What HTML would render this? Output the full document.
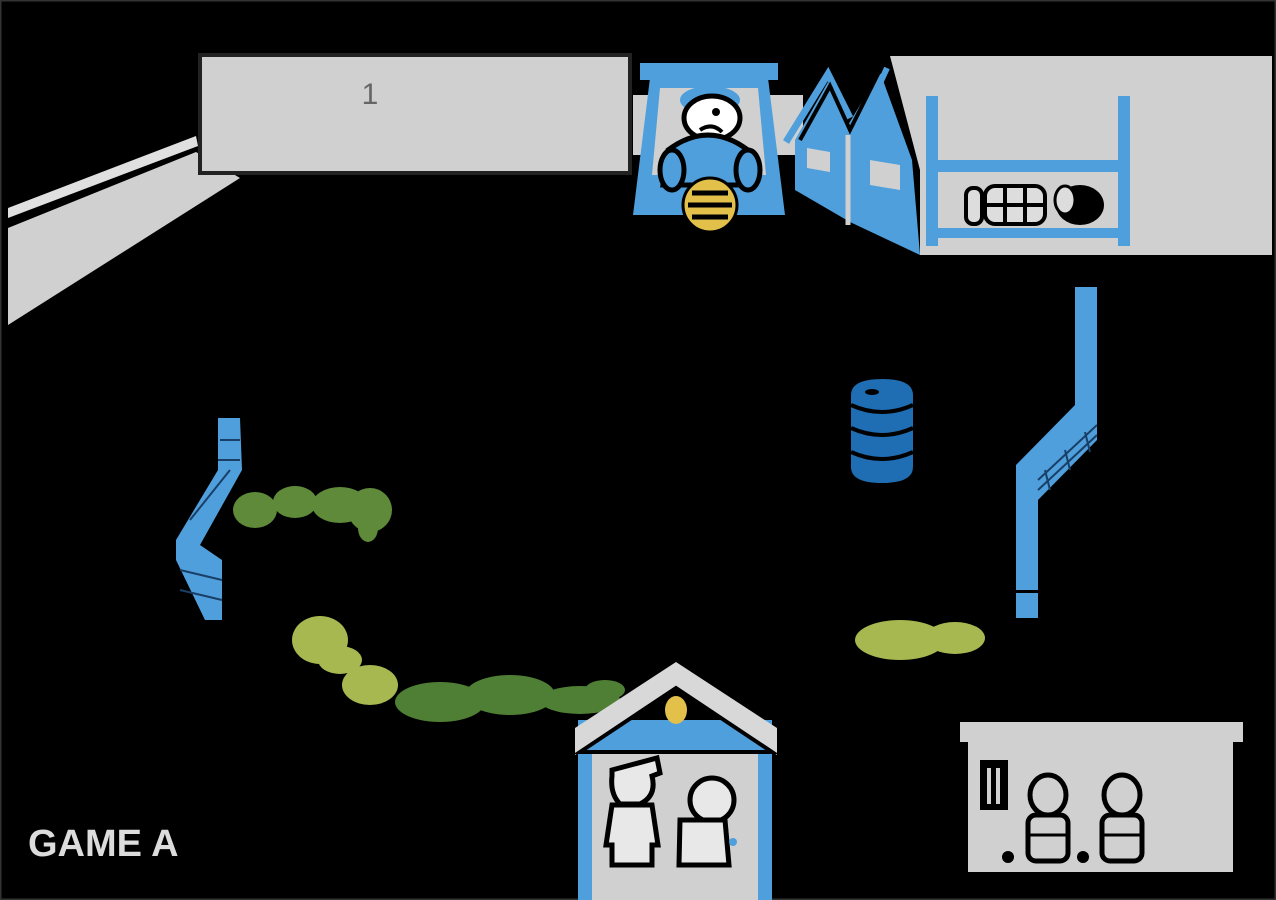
<!DOCTYPE html>
<html><head><style>
html,body{margin:0;padding:0;background:#000;width:1276px;height:900px;overflow:hidden}
svg{display:block}
</style></head><body>
<svg width="1276" height="900" viewBox="0 0 1276 900" xmlns="http://www.w3.org/2000/svg">
<rect x="0" y="0" width="1276" height="900" fill="#000"/>
<rect x="0.5" y="0.5" width="1275" height="899" fill="none" stroke="#333" stroke-width="2"/>
<!-- left wall -->
<polygon points="8,228 196,152 240,178 8,325" fill="#d0d0d0"/>
<polygon points="8,208 196,136 198,146 8,218" fill="#e0e0e0"/>
<!-- top grey bar -->
<rect x="633" y="95" width="170" height="60" fill="#d0d0d0"/>
<rect x="200" y="55" width="430" height="118" fill="#d0d0d0" stroke="#222" stroke-width="4"/>
<text x="370" y="104" font-family="Liberation Sans, sans-serif" font-size="30" fill="#666" text-anchor="middle">1</text>
<!-- right grey area -->
<polygon points="890,56 1272,56 1272,255 920,255 920,170" fill="#d0d0d0"/>
<!-- blue house -->
<polygon points="795,140 828,82 848,125 880,72 912,160 920,255 850,222 795,190" fill="#4f9fdd"/>
<polyline points="786,142 828,74 850,118" fill="none" stroke="#4f9fdd" stroke-width="7"/>
<polyline points="800,140 830,86 850,130 880,70" fill="none" stroke="#000" stroke-width="4"/>
<line x1="856" y1="135" x2="887" y2="68" stroke="#4f9fdd" stroke-width="6"/>
<line x1="848" y1="135" x2="848" y2="225" stroke="#d0d0d0" stroke-width="5"/>
<polygon points="807,148 830,152 830,172 807,168" fill="#d0d0d0"/>
<polygon points="870,160 900,165 900,190 870,185" fill="#d0d0d0"/>
<!-- bunk bed -->
<g fill="#4f9fdd">
<rect x="926" y="96" width="12" height="150"/>
<rect x="1118" y="96" width="12" height="150"/>
<rect x="926" y="160" width="204" height="12"/>
<rect x="926" y="228" width="204" height="10"/>
</g>
<g stroke="#000" stroke-width="4" fill="#ddd">
<rect x="966" y="188" width="16" height="36" rx="7"/>
<rect x="985" y="186" width="60" height="38" rx="10"/>
<line x1="1005" y1="188" x2="1005" y2="222"/><line x1="1025" y1="188" x2="1025" y2="222"/><line x1="986" y1="205" x2="1044" y2="205"/>
</g>
<ellipse cx="1080" cy="205" rx="24" ry="20" fill="#000"/>
<ellipse cx="1065" cy="200" rx="10" ry="14" fill="#ddd" stroke="#000" stroke-width="3"/>
<!-- guard booth -->
<polygon points="640,63 778,63 778,80 640,80" fill="#4f9fdd"/>
<polygon points="650,78 768,78 785,215 633,215" fill="#4f9fdd"/>
<polygon points="660,88 758,88 766,175 652,175" fill="#d0d0d0"/>
<ellipse cx="710" cy="100" rx="30" ry="14" fill="#4f9fdd"/>
<ellipse cx="712" cy="118" rx="28" ry="22" fill="#fff" stroke="#000" stroke-width="5"/>
<path d="M700 130 q12 -8 22 2" stroke="#000" stroke-width="4" fill="none"/>
<circle cx="716" cy="112" r="4" fill="#000"/>
<path d="M668 150 q40 -30 80 0 l5 35 h-90z" fill="#4f9fdd" stroke="#000" stroke-width="5"/>
<ellipse cx="672" cy="170" rx="12" ry="20" fill="#4f9fdd" stroke="#000" stroke-width="5"/>
<ellipse cx="748" cy="170" rx="12" ry="20" fill="#4f9fdd" stroke="#000" stroke-width="5"/>
<circle cx="710" cy="205" r="27" fill="#e2c04a" stroke="#000" stroke-width="3"/>
<g stroke="#000" stroke-width="5"><line x1="692" y1="193" x2="728" y2="193"/><line x1="688" y1="205" x2="732" y2="205"/><line x1="692" y1="217" x2="728" y2="217"/></g>
<!-- right pipe -->
<polygon points="1075,287 1097,287 1097,440 1038,500 1038,618 1016,618 1016,465 1075,405" fill="#4f9fdd"/>
<rect x="1016" y="590" width="22" height="3" fill="#000"/>
<g stroke="#1a3f66" stroke-width="2">
<line x1="1038" y1="480" x2="1097" y2="425"/><line x1="1038" y1="490" x2="1097" y2="435"/><line x1="1045" y1="470" x2="1050" y2="490"/><line x1="1065" y1="450" x2="1070" y2="470"/><line x1="1085" y1="432" x2="1090" y2="452"/>
</g>
<!-- barrel -->
<path d="M851 395 q0 -16 31 -16 q31 0 31 16 v72 q0 16 -31 16 q-31 0 -31 -16z" fill="#1f6db3"/>
<g stroke="#000" stroke-width="4" fill="none">
<path d="M851 405 q31 14 62 0"/><path d="M851 428 q31 14 62 0"/><path d="M851 452 q31 14 62 0"/>
</g>
<ellipse cx="872" cy="392" rx="7" ry="3" fill="#000"/>
<!-- left wall blue -->
<polygon points="218,418 240,418 242,470 200,545 222,560 222,620 205,620 176,560 176,540 218,470" fill="#4f9fdd"/>
<g stroke="#1a3f66" stroke-width="2">
<line x1="220" y1="440" x2="240" y2="440"/><line x1="218" y1="460" x2="240" y2="460"/><line x1="190" y1="520" x2="230" y2="470"/><line x1="180" y1="570" x2="222" y2="580"/><line x1="180" y1="590" x2="222" y2="600"/>
</g>
<!-- bushes -->
<g fill="#5e8a3a">
<ellipse cx="255" cy="510" rx="22" ry="18"/><ellipse cx="295" cy="502" rx="22" ry="16"/><ellipse cx="340" cy="505" rx="28" ry="18"/><ellipse cx="370" cy="510" rx="22" ry="22"/><ellipse cx="368" cy="528" rx="10" ry="14"/>
</g>
<g fill="#a8b850">
<ellipse cx="320" cy="640" rx="28" ry="24"/><ellipse cx="340" cy="660" rx="22" ry="14"/><ellipse cx="370" cy="685" rx="28" ry="20"/>
<ellipse cx="900" cy="640" rx="45" ry="20"/><ellipse cx="955" cy="638" rx="30" ry="16"/>
</g>
<g fill="#4f7f35">
<ellipse cx="440" cy="702" rx="45" ry="20"/><ellipse cx="510" cy="695" rx="45" ry="20"/><ellipse cx="580" cy="700" rx="40" ry="14"/><ellipse cx="605" cy="690" rx="20" ry="10"/>
</g>
<!-- bottom house -->
<rect x="578" y="720" width="194" height="180" fill="#4f9fdd"/>
<rect x="592" y="750" width="166" height="150" fill="#d0d0d0"/>
<polygon points="575,728 676,662 777,728 777,755 676,690 575,755" fill="#d8d8d8"/>
<polygon points="580,752 676,688 772,752" fill="none" stroke="#000" stroke-width="4"/>
<ellipse cx="676" cy="710" rx="11" ry="14" fill="#e2c04a"/>
<g stroke="#000" stroke-width="5" fill="#e8e8e8">
<path d="M612 770 l45 -12 l3 15 l-8 3 q5 20 -12 28 l-20 0 q-10 -10 -8 -28z"/>
<path d="M612 805 h40 l6 40 h-6 v20 h-40 v-20 h-6z"/>
<circle cx="712" cy="800" r="22"/>
<path d="M680 820 h45 l4 45 h-50z"/>
</g>
<circle cx="733" cy="842" r="4" fill="#4f9fdd"/>
<!-- jail -->
<rect x="960" y="722" width="283" height="20" fill="#d0d0d0"/>
<rect x="968" y="740" width="265" height="132" fill="#d0d0d0"/>
<rect x="980" y="760" width="28" height="50" fill="#000"/>
<rect x="987" y="768" width="4" height="36" fill="#d0d0d0"/><rect x="996" y="768" width="4" height="36" fill="#d0d0d0"/>
<g stroke="#000" stroke-width="5" fill="#d0d0d0">
<ellipse cx="1048" cy="795" rx="18" ry="20"/><rect x="1028" y="815" width="40" height="46" rx="8"/>
<ellipse cx="1122" cy="795" rx="18" ry="20"/><rect x="1102" y="815" width="40" height="46" rx="8"/>
</g>
<g stroke="#000" stroke-width="3"><line x1="1030" y1="835" x2="1066" y2="835"/><line x1="1104" y1="835" x2="1140" y2="835"/></g>
<circle cx="1008" cy="857" r="6" fill="#000"/><circle cx="1083" cy="857" r="6" fill="#000"/>
<text x="28" y="856" font-family="Liberation Sans, sans-serif" font-weight="bold" font-size="38" fill="#dcdcdc">GAME A</text>
</svg>
</body></html>
